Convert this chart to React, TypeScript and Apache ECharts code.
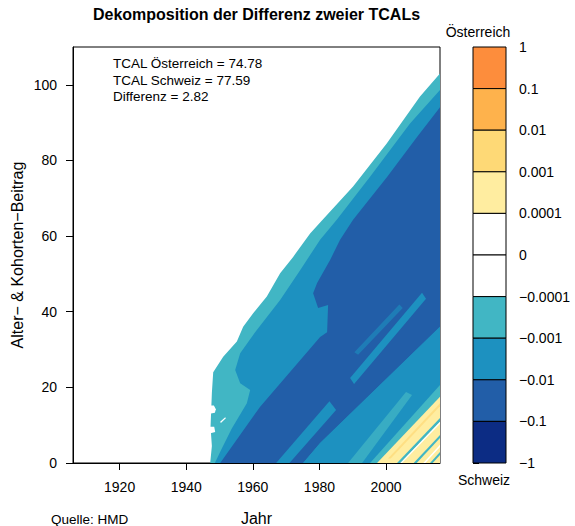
import React, { useEffect, useRef } from "react";
import * as echarts from "echarts";

type Pt = [number, number];

// ---- axis ticks ----
const xTickValues = [1920, 1940, 1960, 1980, 2000];
const yTickValues = [0, 20, 40, 60, 80, 100];

// ---- colour classes (top -> bottom of the key) ----
const legendTickLabels = ["1", "0.1", "0.01", "0.001", "0.0001", "0", "\u22120.0001", "\u22120.001", "\u22120.01", "\u22120.1", "\u22121"];
const legendColors = ["#FD8D3C", "#FEB24C", "#FED976", "#FFEDA0", "#FFFFFF", "#FFFFFF", "#41B6C4", "#1D91C0", "#225EA8", "#0C2C84"];

// ---- contribution regions, [Jahr, Alter] vertices ----
const envelopeTeal: Pt[] = [
  [1947.2, 0], [1947.7, 4.5], [1947.3, 9.5], [1947.7, 18.5], [1948.1, 24.0], [1951.1, 28.1],
  [1955.2, 32.1], [1957.1, 36.0], [1960.1, 39.6], [1964.2, 44.0], [1968.2, 50.2], [1972.1, 54.5],
  [1977.2, 60.7], [1980.2, 63.6], [1990.1, 73.1], [2000.2, 84.5], [2010.2, 96.9], [2016.2, 103.0], [2016.2, 0],
];
const wedgeMidBlue: Pt[] = [
  [1948.6, 0], [1950.5, 3.5], [1953.6, 9.0], [1958.2, 15.8], [1959.2, 19.3], [1956.2, 21.1], [1954.7, 24.6],
  [1956.2, 29.0], [1961.2, 35.2], [1968.2, 43.1], [1974.2, 51.0], [1980.2, 59.0], [1985.2, 64.3],
  [1995.2, 75.7], [2007.2, 89.8], [2016.2, 98.6], [2016.2, 0],
];
const coreDarkBlue: Pt[] = [
  [1950.2, 0], [1962.2, 14.9], [1980.2, 33.3], [1982.3, 34.6], [1982.6, 41.8], [1979.6, 41.0], [1978.1, 44.9],
  [1979.3, 47.6], [1983.2, 53.7], [1986.2, 59.0], [1990.1, 64.3], [2000.3, 75.6], [2009.3, 86.2],
  [2016.2, 94.1], [2016.2, 36.0], [1980.2, 5.3], [1975.1, 0],
];
const lowerMidBlue: Pt[] = [[1975.1, 0], [1980.2, 5.3], [2016.2, 36.0], [2016.2, 0]];
const streakUpper: Pt[] = [[1989.2, 22.5], [1990.4, 20.9], [2012.0, 43.4], [2010.8, 45.0]];
const streakUpperFaint: Pt[] = [[1990.5, 29.3], [1991.6, 28.6], [2005.0, 41.0], [2004.0, 41.9]];
const streakLower: Pt[] = [[1967.0, 0], [1971.0, 0], [1985.0, 14.0], [1983.0, 16.3]];
const streakTeal: Pt[] = [[1988.6, 0], [1992.8, 0], [2007.8, 18.0], [2006.0, 18.8]];
const bandTeal: Pt[] = [[1995.2, 0], [2016.2, 0], [2016.2, 20.6]];
const cornerYellow: Pt[] = [[1997.3, 0], [2016.2, 0], [2016.2, 17.5]];
const yellowCore: Pt[] = [[2000.6, 1.2], [2001.4, 1.2], [2016.2, 15.0], [2016.2, 15.8]];
const stripeTeal1: Pt[] = [[2003.3, 0], [2004.3, 0], [2016.2, 10.9], [2016.2, 11.9]];
const stripeWhite1: Pt[] = [[2004.3, 0], [2004.8, 0], [2016.2, 10.4], [2016.2, 10.9]];
const stripeTeal2: Pt[] = [[2008.3, 0], [2009.2, 0], [2016.2, 6.6], [2016.2, 7.4]];
const stripeWhite2: Pt[] = [[2011.2, 0], [2011.8, 0], [2016.2, 4.2], [2016.2, 4.8]];
const stripeTeal3: Pt[] = [[2013.2, 0], [2014.0, 0], [2016.2, 2.1], [2016.2, 2.9]];
const notchWhite1: Pt[] = [[1947.0, 13.0], [1948.6, 13.3], [1948.9, 14.2], [1948.3, 15.2], [1947.0, 15.2]];
const notchWhite2: Pt[] = [[1947.0, 7.8], [1948.7, 8.2], [1948.4, 9.6], [1947.0, 9.6]];
const notchWhite3: Pt[] = [[1950.2, 10.9], [1951.7, 12.1], [1951.9, 11.8], [1950.4, 10.6]];

// region: polygon + colour class (index into legendColors) + opacity
const regions: { pts: Pt[]; cls: number; op: number }[] = [
  { pts: envelopeTeal, cls: 6, op: 1 },
  { pts: wedgeMidBlue, cls: 7, op: 1 },
  { pts: coreDarkBlue, cls: 8, op: 1 },
  { pts: lowerMidBlue, cls: 7, op: 1 },
  { pts: streakUpper, cls: 7, op: 1 },
  { pts: streakUpperFaint, cls: 7, op: 0.6 },
  { pts: streakLower, cls: 7, op: 1 },
  { pts: streakTeal, cls: 6, op: 0.75 },
  { pts: bandTeal, cls: 6, op: 1 },
  { pts: cornerYellow, cls: 3, op: 1 },
  { pts: yellowCore, cls: 2, op: 0.7 },
  { pts: stripeTeal1, cls: 6, op: 1 },
  { pts: stripeWhite1, cls: 4, op: 1 },
  { pts: stripeTeal2, cls: 6, op: 1 },
  { pts: stripeWhite2, cls: 4, op: 1 },
  { pts: stripeTeal3, cls: 6, op: 1 },
  { pts: notchWhite1, cls: 4, op: 1 },
  { pts: notchWhite2, cls: 4, op: 1 },
  { pts: notchWhite3, cls: 4, op: 1 },
];

const FONT = "'Liberation Sans', Arial, Helvetica, sans-serif";

export default function App() {
  const ref = useRef<HTMLDivElement>(null);
  useEffect(() => {
    if (!ref.current) return;
    const chart = echarts.init(ref.current, undefined, { renderer: "svg" });
    const option: any = {
      animation: false,
      backgroundColor: "#ffffff",
      textStyle: { fontFamily: FONT },
      grid: [
        { left: 73, top: 47, width: 367, height: 416, show: true, borderColor: "#000", borderWidth: 1, backgroundColor: "transparent" },
        { left: 473, top: 47, width: 33, height: 416, show: false },
      ],
      xAxis: [
        {
          type: "value", gridIndex: 0, min: 1906, max: 2016.2,
          axisLine: { show: true, lineStyle: { color: "#000", width: 1 } },
          axisTick: { show: true, length: 7, inside: false, customValues: xTickValues, lineStyle: { color: "#000" } },
          axisLabel: { customValues: xTickValues, margin: 17, fontSize: 14, color: "#000", fontFamily: FONT, formatter: (v: number) => String(v) },
          splitLine: { show: false },
        },
        { type: "value", gridIndex: 1, min: 0, max: 1, show: false },
      ],
      yAxis: [
        {
          type: "value", gridIndex: 0, min: 0, max: 110,
          axisLine: { show: true, lineStyle: { color: "#000", width: 1 } },
          axisTick: { show: true, length: 7, inside: false, customValues: yTickValues, lineStyle: { color: "#000" } },
          axisLabel: { customValues: yTickValues, margin: 16, fontSize: 14, color: "#000", fontFamily: FONT, formatter: (v: number) => String(v) },
          splitLine: { show: false },
        },
        {
          type: "value", gridIndex: 1, min: 0, max: 10, interval: 1, position: "right",
          axisLine: { show: false },
          axisTick: { show: true, length: 6, inside: false, lineStyle: { color: "#000" } },
          axisLabel: { margin: 13, fontSize: 14, color: "#000", fontFamily: FONT, formatter: (v: number) => legendTickLabels[10 - Math.round(v)] },
          splitLine: { show: false },
        },
      ],
      graphic: [
        { type: "text", x: 256.5, y: 14, style: { text: "Dekomposition der Differenz zweier TCALs", font: `bold 16px ${FONT}`, fill: "#000", align: "center", verticalAlign: "middle" } },
        { type: "text", x: 113, y: 63.5, style: { text: "TCAL \u00D6sterreich = 74.78", font: `13.5px ${FONT}`, fill: "#000", align: "left", verticalAlign: "middle" } },
        { type: "text", x: 113, y: 80.2, style: { text: "TCAL Schweiz = 77.59", font: `13.5px ${FONT}`, fill: "#000", align: "left", verticalAlign: "middle" } },
        { type: "text", x: 113, y: 96.9, style: { text: "Differenz = 2.82", font: `13.5px ${FONT}`, fill: "#000", align: "left", verticalAlign: "middle" } },
        { type: "text", x: 256.5, y: 518, style: { text: "Jahr", font: `16px ${FONT}`, fill: "#000", align: "center", verticalAlign: "middle" } },
        { type: "text", x: 51, y: 519, style: { text: "Quelle: HMD", font: `13.5px ${FONT}`, fill: "#000", align: "left", verticalAlign: "middle" } },
        { type: "text", x: 17, y: 255, rotation: Math.PI / 2, style: { text: "Alter\u2212 & Kohorten\u2212Beitrag", font: `16px ${FONT}`, fill: "#000", align: "center", verticalAlign: "middle" } },
        { type: "text", x: 478, y: 32, style: { text: "\u00D6sterreich", font: `14px ${FONT}`, fill: "#000", align: "center", verticalAlign: "middle" } },
        { type: "text", x: 484, y: 480, style: { text: "Schweiz", font: `14px ${FONT}`, fill: "#000", align: "center", verticalAlign: "middle" } },
      ],
      series: [
        {
          type: "custom", xAxisIndex: 0, yAxisIndex: 0, clip: true, silent: true,
          data: regions.map((_, i) => i),
          renderItem: (params: any, api: any) => {
            const r = regions[params.dataIndex];
            return {
              type: "polygon",
              shape: { points: r.pts.map((p) => api.coord(p)) },
              style: { fill: legendColors[r.cls], opacity: r.op },
            };
          },
        },
        {
          type: "custom", xAxisIndex: 1, yAxisIndex: 1, silent: true,
          data: legendColors.map((_, i) => i),
          renderItem: (params: any, api: any) => {
            const i = params.dataIndex;
            const tl = api.coord([0, 10 - i]);
            const br = api.coord([1, 9 - i]);
            return {
              type: "rect",
              shape: { x: tl[0], y: tl[1], width: br[0] - tl[0], height: br[1] - tl[1] },
              style: { fill: legendColors[i], stroke: "#000", lineWidth: 1 },
            };
          },
        },
      ],
    };
    chart.setOption(option);
    return () => chart.dispose();
  }, []);
  return <div ref={ref} style={{ position: "fixed", left: 0, top: 0, width: 575, height: 526 }} />;
}
